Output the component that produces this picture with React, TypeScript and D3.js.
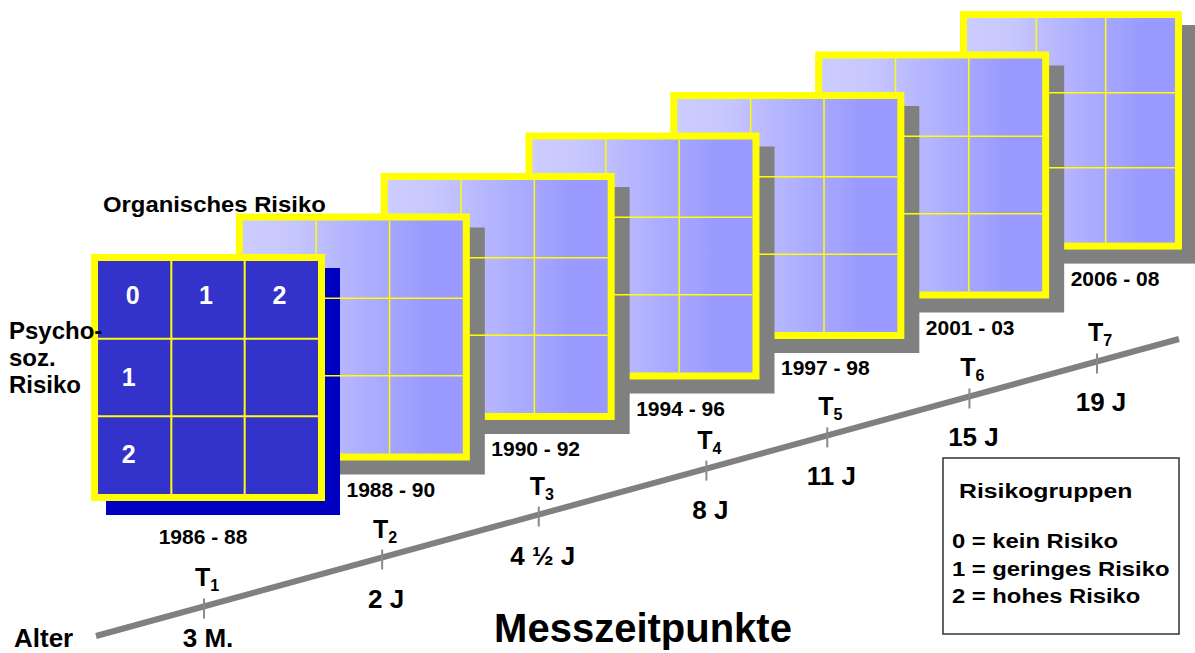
import React from 'react';
import * as d3 from 'd3';

// measurement waves
const periods = ['1986 - 88', '1988 - 90', '1990 - 92', '1994 - 96', '1997 - 98', '2001 - 03', '2006 - 08'];
const waves = ['1', '2', '3', '4', '5', '6', '7'];
const ages = [0.25, 2, 4.5, 8, 11, 15, 19];
const ageLabels = ['3 M.', '2 J', '4 ½ J', '8 J', '11 J', '15 J', '19 J'];

// risk grid
const riskLevels = ['0', '1', '2'];
const rowTitle = ['Psycho-', 'soz.', 'Risiko'];
const colTitle = 'Organisches Risiko';

// legend
const legendTitle = 'Risikogruppen';
const legendItems = ['0 = kein Risiko', '1 = geringes Risiko', '2 = hohes Risiko'];

const FONT = '"Liberation Sans", Arial, Helvetica, sans-serif';

class App extends React.Component {
    node: SVGSVGElement | null = null;

    componentDidMount() {
        this.draw();
    }

    componentDidUpdate() {
        this.draw();
    }

    draw() {
        const width = 1195,
            height = 653;

        const svg = d3.select(this.node);
        svg.selectAll('*').remove();
        svg.attr('width', width).attr('height', height);

        // gradient for the back cards
        const grad = svg.append('defs').append('linearGradient')
            .attr('id', 'cardFill')
            .attr('x1', 0).attr('x2', 1).attr('y1', 0).attr('y2', 0);
        grad.append('stop').attr('offset', '0%').attr('stop-color', '#ccccff');
        grad.append('stop').attr('offset', '20%').attr('stop-color', '#c8c8ff');
        grad.append('stop').attr('offset', '85%').attr('stop-color', '#9999ff');
        grad.append('stop').attr('offset', '100%').attr('stop-color', '#9999ff');

        // text helper (sx = horizontal stretch)
        const label = (x, y, txt, size, anchor = 'start', sx = 1, color = '#000') =>
            svg.append('text')
                .attr('transform', 'translate(' + x + ',' + y + ') scale(' + sx + ',1)')
                .attr('text-anchor', anchor)
                .style('font-family', FONT)
                .style('font-weight', 'bold')
                .style('font-size', size + 'px')
                .style('fill', color)
                .text(txt);

        // card layout
        const cardW = 234,
            cardH = 247,
            frame = 7,
            rightLimit = 1182,
            shadowDx = 15,
            shadowDy = 14;

        const xCard = d3.scalePoint().domain(periods).range([91, 960]);
        const yCard = d3.scalePoint().domain(periods).range([254, 11]);

        const cards = periods.map((p, i) => {
            const x = xCard(p);
            const y = yCard(p);
            const w = Math.min(cardW, rightLimit - x);
            const h = cardH - (cardW - w) * 0.7;
            return { p, i, x, y, w, h, ix: x + frame, iy: y + frame, iw: w - 2 * frame, ih: h - 2 * frame };
        });

        const drawShadow = c => {
            svg.append('rect')
                .attr('x', c.x + shadowDx)
                .attr('y', c.y + shadowDy)
                .attr('width', c.w)
                .attr('height', c.h)
                .style('fill', c.i === 0 ? '#0000c0' : '#808080');
        };

        const drawBody = c => {
            svg.append('rect')
                .attr('x', c.x).attr('y', c.y)
                .attr('width', c.w).attr('height', c.h)
                .style('fill', '#ffff00');
            svg.append('rect')
                .attr('x', c.ix).attr('y', c.iy)
                .attr('width', c.iw).attr('height', c.ih)
                .style('fill', c.i === 0 ? '#3333cc' : 'url(#cardFill)');
        };

        const drawGrid = c => {
            const col = d3.scaleBand().domain(riskLevels).range([c.ix, c.ix + c.iw]);
            const row = d3.scaleBand().domain(riskLevels).range([c.iy, c.iy + c.ih]);
            const g = svg.append('g')
                .style('stroke', '#ffff00')
                .style('stroke-width', c.i === 0 ? 2 : 1.5);
            riskLevels.slice(1).forEach(r => {
                g.append('line')
                    .attr('x1', col(r)).attr('x2', col(r))
                    .attr('y1', c.iy).attr('y2', c.iy + c.ih);
                g.append('line')
                    .attr('x1', c.ix).attr('x2', c.ix + c.iw)
                    .attr('y1', row(r)).attr('y2', row(r));
            });
            return { col, row };
        };

        // back to front: the grid of a card shows over the shadow in front of it
        for (let i = cards.length - 1; i >= 0; i--) {
            drawShadow(cards[i]);
            if (i < cards.length - 1) drawGrid(cards[i + 1]);
            drawBody(cards[i]);
        }
        const { col, row } = drawGrid(cards[0]);

        // risk numbers in the front card
        riskLevels.forEach(r => {
            label(col(r) + col.bandwidth() / 2 - 2, row('0') + 43, r, 25, 'middle', 1, '#ffffff');
        });
        riskLevels.slice(1).forEach(r => {
            label(col('0') + col.bandwidth() / 2 - 6, row(r) + 47, r, 25, 'middle', 1, '#ffffff');
        });

        // period labels
        cards.forEach(c => {
            if (c.i === 0) label(c.x + c.w / 2 - 5, c.y + c.h + 43, c.p, 21, 'middle');
            else label(c.x + 155, c.y + c.h + 36, c.p, 21, 'middle');
        });

        // axis titles
        label(103, 212, colTitle, 22, 'start', 1.085);
        rowTitle.forEach((t, k) => label(9, 339 + k * 27, t, 24));

        // timeline
        const xAge = d3.scalePow().exponent(0.6).domain([0.25, 19]).range([204, 1097]);
        const yLine = d3.scaleLinear().domain([96, 1179]).range([636, 339]);
        const bottomLine = height - 6;

        svg.append('path')
            .attr('d', d3.line()([[96, yLine(96)], [1179, yLine(1179)]]))
            .style('fill', 'none')
            .style('stroke', '#808080')
            .style('stroke-width', 6);

        ages.forEach((a, i) => {
            const x = xAge(a);
            const y = yLine(x);
            svg.append('line')
                .attr('x1', x).attr('x2', x)
                .attr('y1', y - 8).attr('y2', y + 12)
                .style('stroke', '#8a8a8a')
                .style('stroke-width', 2);

            const t = svg.append('text')
                .attr('x', x + 3)
                .attr('y', y - 20)
                .attr('text-anchor', 'middle')
                .style('font-family', FONT)
                .style('font-weight', 'bold')
                .style('font-size', '25px')
                .text('T');
            t.append('tspan')
                .attr('dy', 5)
                .style('font-size', '16px')
                .text(waves[i]);

            label(x + 4, Math.min(y + 50, bottomLine), ageLabels[i], 26, 'middle');
        });

        label(14, bottomLine, 'Alter', 26);
        label(643, 642, 'Messzeitpunkte', 40, 'middle');

        // legend
        svg.append('rect')
            .attr('x', 943).attr('y', 458)
            .attr('width', 236).attr('height', 176)
            .style('fill', 'none')
            .style('stroke', '#333333')
            .style('stroke-width', 1.5);
        label(959, 498, legendTitle, 21, 'start', 1.18);
        legendItems.forEach((t, k) => label(952, 548 + k * 27.5, t, 20, 'start', 1.19));
    }

    render() {
        return (
            <svg
                ref={node => { this.node = node; }}
                style={{ position: 'absolute', left: 0, top: 0, display: 'block', background: '#ffffff' }}
            ></svg>
        );
    }
}

export default App;
